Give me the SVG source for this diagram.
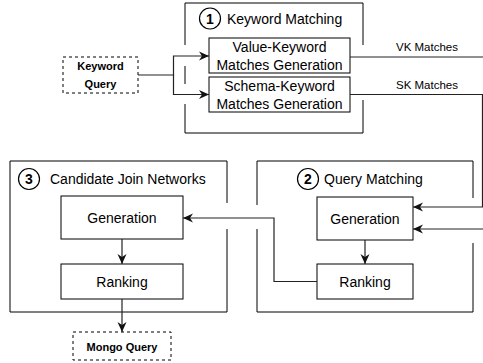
<svg xmlns="http://www.w3.org/2000/svg" width="483" height="363" viewBox="0 0 483 363">
  <style>
    text { font-family: "Liberation Sans", Arial, sans-serif; fill: #000; }
    .lbl { font-size: 14px; text-anchor: middle; }
    .ttl { font-size: 14px; }
    .num { font-size: 14px; font-weight: bold; text-anchor: middle; }
    .term { font-size: 11px; font-weight: bold; text-anchor: middle; }
    .edge { font-size: 11.5px; text-anchor: middle; }
    .box { fill: #fff; stroke: #000; stroke-width: 1; }
    .term-box { fill: #fff; stroke: #000; stroke-width: 1; stroke-dasharray: 3 3; }
    .border { fill: none; stroke: #000; stroke-width: 1; }
    .badge { fill: #fff; stroke: #000; stroke-width: 1.2; }
    .conn { fill: none; stroke: #222; stroke-width: 1.2; }
  </style>
  <defs>
    <marker id="arrow" markerUnits="userSpaceOnUse" markerWidth="10" markerHeight="10" viewBox="0 0 10 10" refX="10" refY="5" orient="auto">
      <path d="M0,0.5 L10,5 L0,9.5 L3,5 Z" fill="#111"/>
    </marker>
  </defs>
  <rect width="483" height="363" fill="#fff"/>

  <!-- stage 1: keyword matching -->
  <g id="stage-keyword-matching">
    <path class="border" d="M185,45 V3 H363 V45 M363,100 V133 H185 V104 M185,66 V84"/>
    <circle class="badge" cx="210" cy="18.5" r="10.5"/>
    <text class="num" x="210" y="23.5">1</text>
    <text class="ttl" x="227" y="23.5">Keyword Matching</text>
  </g>
  <g id="value-keyword">
    <rect class="box" x="209" y="38" width="141" height="35"/>
    <text class="lbl" x="279.5" y="51.5">Value-Keyword</text>
    <text class="lbl" x="279.5" y="69.5">Matches Generation</text>
  </g>
  <g id="schema-keyword">
    <rect class="box" x="209" y="77" width="141" height="35"/>
    <text class="lbl" x="279.5" y="90.5">Schema-Keyword</text>
    <text class="lbl" x="279.5" y="108.5">Matches Generation</text>
  </g>

  <!-- stage 2: query matching -->
  <g id="stage-query-matching">
    <path class="border" d="M257,205 V161 H473 V198 M473,243 V312 H257 V229"/>
    <circle class="badge" cx="308" cy="179" r="10.5"/>
    <text class="num" x="308" y="184">2</text>
    <text class="ttl" x="324" y="184">Query Matching</text>
  </g>
  <g id="qm-generation">
    <rect class="box" x="317" y="197" width="96" height="43"/>
    <text class="lbl" x="365" y="223.5">Generation</text>
  </g>
  <g id="qm-ranking">
    <rect class="box" x="317" y="264" width="96" height="35"/>
    <text class="lbl" x="365" y="286.5">Ranking</text>
  </g>

  <!-- stage 3: candidate join networks -->
  <g id="stage-candidate-join-networks">
    <path class="border" d="M227,203 V161 H10 V312 H227 V229"/>
    <circle class="badge" cx="29" cy="179" r="10.5"/>
    <text class="num" x="29" y="184">3</text>
    <text class="ttl" x="50" y="184">Candidate Join Networks</text>
  </g>
  <g id="cjn-generation">
    <rect class="box" x="61" y="196" width="122" height="43"/>
    <text class="lbl" x="122" y="222.5">Generation</text>
  </g>
  <g id="cjn-ranking">
    <rect class="box" x="61" y="264" width="122" height="35"/>
    <text class="lbl" x="122" y="286.5">Ranking</text>
  </g>

  <!-- input / output -->
  <g id="keyword-query">
    <rect class="term-box" x="63" y="57" width="75" height="36"/>
    <text class="term" x="100.5" y="70">Keyword</text>
    <text class="term" x="100.5" y="88">Query</text>
  </g>
  <g id="mongo-query">
    <rect class="term-box" x="73" y="332" width="98" height="28"/>
    <text class="term" x="122" y="351">Mongo Query</text>
  </g>

  <!-- connectors -->
  <g id="connectors">
    <path class="conn" d="M138,75 H173.5 V56 H209" marker-end="url(#arrow)"/>
    <path class="conn" d="M173.5,75 V94.5 H209" marker-end="url(#arrow)"/>
    <path class="conn" d="M350,57 H492 V229 H413" marker-end="url(#arrow)"/>
    <path class="conn" d="M350,94.5 H482.5 V207 H413" marker-end="url(#arrow)"/>
    <path class="conn" d="M365,240 V264" marker-end="url(#arrow)"/>
    <path class="conn" d="M317,281.5 H274 V218 H183" marker-end="url(#arrow)"/>
    <path class="conn" d="M122,239 V264" marker-end="url(#arrow)"/>
    <path class="conn" d="M122,299 V332" marker-end="url(#arrow)"/>
    <text class="edge" x="427" y="51">VK Matches</text>
    <text class="edge" x="427" y="89">SK Matches</text>
  </g>
</svg>
